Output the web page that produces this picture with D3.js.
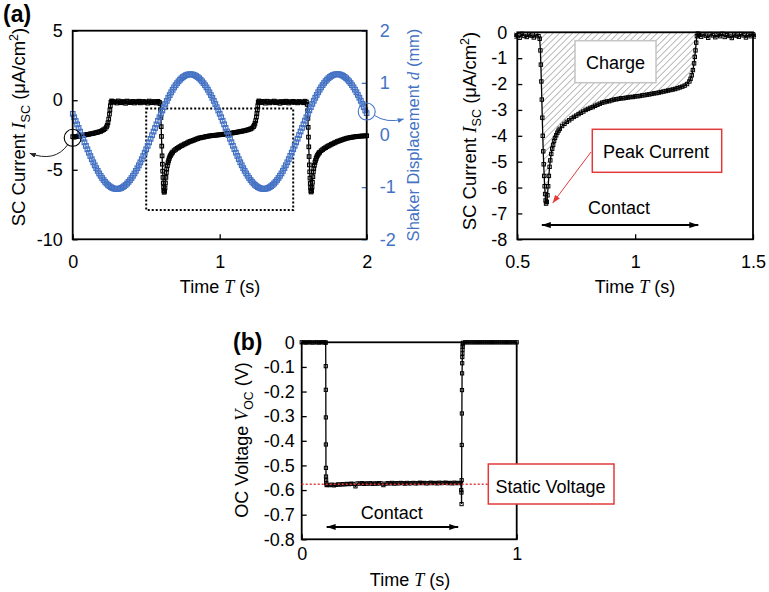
<!DOCTYPE html>
<html><head><meta charset="utf-8">
<script src="https://cdn.jsdelivr.net/npm/d3@7"></script>
<style>body{margin:0;background:#fff}svg{display:block}</style>
</head><body>
<svg id="chart" width="769" height="592"></svg>
<script>
// ---------------- DATA ----------------
// Short-circuit current density (µA/cm²) vs time (s): [t, I]
const currentSeries = [
 [0.00,-2.62],[0.01,-2.66],[0.02,-2.61],[0.03,-2.60],[0.04,-2.57],[0.05,-2.58],[0.06,-2.54],[0.07,-2.52],[0.08,-2.51],[0.09,-2.48],
 [0.10,-2.46],[0.11,-2.45],[0.12,-2.42],[0.13,-2.40],[0.14,-2.39],[0.15,-2.35],[0.16,-2.33],[0.17,-2.30],[0.18,-2.27],[0.19,-2.24],
 [0.20,-2.18],[0.21,-2.12],[0.22,-2.05],[0.23,-1.92],[0.235,-1.80],[0.24,-1.62],[0.245,-1.35],[0.25,-1.00],[0.253,-0.70],[0.256,-0.40],
 [0.26,-0.15],[0.265,-0.05],
 [0.27,-0.08],[0.28,-0.15],[0.29,-0.10],[0.30,-0.20],[0.31,-0.05],[0.32,-0.12],[0.33,-0.18],[0.34,-0.09],[0.35,-0.14],[0.36,-0.22],
 [0.37,-0.06],[0.38,-0.11],[0.39,-0.17],[0.40,-0.13],[0.41,-0.08],[0.42,-0.20],[0.43,-0.10],[0.44,-0.15],[0.45,-0.07],[0.46,-0.19],
 [0.47,-0.12],[0.48,-0.09],[0.49,-0.16],[0.50,-0.11],[0.51,-0.21],[0.52,-0.06],[0.53,-0.14],[0.54,-0.18],[0.55,-0.09],[0.56,-0.13],
 [0.57,-0.20],[0.58,-0.08],[0.59,-0.15],
 [0.595,-0.25],[0.598,-0.70],[0.600,-1.25],[0.602,-1.90],[0.604,-2.60],[0.606,-3.30],[0.608,-4.00],[0.610,-4.60],[0.612,-5.10],[0.614,-5.55],
 [0.616,-5.95],[0.618,-6.25],[0.620,-6.50],[0.622,-6.62],[0.625,-6.55],[0.628,-6.30],[0.631,-5.95],[0.634,-5.55],[0.637,-5.20],[0.640,-4.95],
 [0.644,-4.70],[0.648,-4.50],[0.652,-4.35],[0.656,-4.20],[0.660,-4.08],[0.665,-3.98],[0.670,-3.88],[0.675,-3.80],[0.68,-3.73],[0.69,-3.62],
 [0.70,-3.54],[0.71,-3.46],[0.72,-3.40],[0.73,-3.33],[0.74,-3.27],[0.75,-3.22],[0.76,-3.16],[0.77,-3.11],[0.78,-3.06],[0.79,-3.00],
 [0.80,-2.96],[0.81,-2.92],[0.82,-2.89],[0.83,-2.84],[0.84,-2.80],[0.85,-2.76],[0.86,-2.72],[0.87,-2.70],[0.88,-2.67],[0.89,-2.66],
 [0.90,-2.63],[0.91,-2.60],[0.92,-2.59],[0.93,-2.57],[0.94,-2.55],[0.95,-2.55],[0.96,-2.53],[0.97,-2.52],[0.98,-2.50],[0.99,-2.50],
 [1.00,-2.48],[1.01,-2.47],[1.02,-2.46],[1.03,-2.44],[1.04,-2.43],[1.05,-2.41],[1.06,-2.40],[1.07,-2.38],[1.08,-2.36],[1.09,-2.35],
 [1.10,-2.33],[1.11,-2.31],[1.12,-2.29],[1.13,-2.27],[1.14,-2.25],[1.15,-2.23],[1.16,-2.21],[1.17,-2.19],[1.18,-2.16],[1.19,-2.13],
 [1.20,-2.10],[1.21,-2.06],[1.22,-2.00],[1.23,-1.90],[1.235,-1.80],[1.24,-1.66],[1.245,-1.46],[1.25,-1.20],[1.253,-0.95],[1.256,-0.70],
 [1.259,-0.40],[1.262,-0.15],[1.266,-0.05],
 [1.27,-0.10],[1.28,-0.17],[1.29,-0.08],[1.30,-0.13],[1.31,-0.21],[1.32,-0.07],[1.33,-0.12],[1.34,-0.19],[1.35,-0.10],[1.36,-0.15],
 [1.37,-0.06],[1.38,-0.18],[1.39,-0.11],[1.40,-0.14],[1.41,-0.22],[1.42,-0.09],[1.43,-0.13],[1.44,-0.17],[1.45,-0.07],[1.46,-0.12],
 [1.47,-0.20],[1.48,-0.10],[1.49,-0.15],[1.50,-0.08],[1.51,-0.16],[1.52,-0.11],[1.53,-0.19],[1.54,-0.09],[1.55,-0.14],[1.56,-0.12],
 [1.57,-0.18],[1.58,-0.07],[1.59,-0.13],
 [1.595,-0.30],[1.598,-0.75],[1.600,-1.30],[1.602,-1.95],[1.604,-2.65],[1.606,-3.35],[1.608,-4.05],[1.610,-4.65],[1.612,-5.15],[1.614,-5.60],
 [1.616,-5.98],[1.618,-6.28],[1.620,-6.52],[1.622,-6.60],[1.625,-6.50],[1.628,-6.25],[1.631,-5.90],[1.634,-5.50],[1.637,-5.15],[1.640,-4.92],
 [1.644,-4.68],[1.648,-4.48],[1.652,-4.33],[1.656,-4.19],[1.660,-4.07],[1.665,-3.97],[1.670,-3.88],[1.675,-3.80],[1.68,-3.74],[1.69,-3.63],
 [1.70,-3.55],[1.71,-3.47],[1.72,-3.41],[1.73,-3.34],[1.74,-3.28],[1.75,-3.23],[1.76,-3.17],[1.77,-3.12],[1.78,-3.07],[1.79,-3.02],
 [1.80,-2.97],[1.81,-2.93],[1.82,-2.90],[1.83,-2.85],[1.84,-2.82],[1.85,-2.78],[1.86,-2.75],[1.87,-2.72],[1.88,-2.70],[1.89,-2.68],
 [1.90,-2.66],[1.91,-2.64],[1.92,-2.63],[1.93,-2.61],[1.94,-2.60],[1.95,-2.59],[1.96,-2.58],[1.97,-2.57],[1.98,-2.57],[1.99,-2.56],
 [2.00,-2.55]
];

// Shaker displacement (mm), sampled every 0.01 s from t = 0 to 2 s
const dispStep = 0.01;
const displacement = [
 0.405,0.339,0.271,0.203,0.134,0.065,-0.004,-0.073,-0.141,-0.209,
 -0.275,-0.340,-0.403,-0.465,-0.524,-0.582,-0.636,-0.688,-0.737,-0.783,
 -0.825,-0.864,-0.899,-0.930,-0.958,-0.981,-1.000,-1.016,-1.026,-1.033,
 -1.035,-1.033,-1.026,-1.016,-1.000,-0.981,-0.958,-0.930,-0.899,-0.864,
 -0.825,-0.783,-0.737,-0.688,-0.636,-0.582,-0.524,-0.465,-0.403,-0.340,
 -0.275,-0.209,-0.141,-0.073,-0.004,0.065,0.134,0.203,0.271,0.339,
 0.405,0.470,0.533,0.595,0.654,0.712,0.766,0.818,0.867,0.913,
 0.955,0.994,1.029,1.060,1.088,1.111,1.130,1.146,1.156,1.163,
 1.165,1.163,1.156,1.146,1.130,1.111,1.088,1.060,1.029,0.994,
 0.955,0.913,0.867,0.818,0.766,0.712,0.654,0.595,0.533,0.470,
 0.408,0.341,0.273,0.205,0.136,0.067,-0.002,-0.071,-0.139,-0.207,
 -0.273,-0.338,-0.401,-0.463,-0.523,-0.580,-0.635,-0.687,-0.736,-0.782,
 -0.824,-0.863,-0.898,-0.929,-0.957,-0.980,-0.999,-1.015,-1.025,-1.032,
 -1.034,-1.032,-1.025,-1.015,-0.999,-0.980,-0.957,-0.929,-0.898,-0.863,
 -0.824,-0.782,-0.736,-0.687,-0.635,-0.580,-0.523,-0.463,-0.401,-0.338,
 -0.273,-0.207,-0.139,-0.071,-0.002,0.067,0.136,0.205,0.273,0.341,
 0.407,0.472,0.535,0.597,0.656,0.714,0.768,0.820,0.869,0.915,
 0.957,0.996,1.031,1.062,1.090,1.113,1.132,1.148,1.158,1.165,
 1.167,1.165,1.158,1.148,1.132,1.113,1.090,1.062,1.031,0.996,
 0.957,0.915,0.869,0.820,0.768,0.714,0.656,0.597,0.535,0.472,
 0.420
];

// Open-circuit voltage (V) vs time (s): [t, V]
const voltageSeries = [
 [0,0],[0.01,0],[0.02,-0.001],[0.03,0],[0.04,0],[0.05,-0.001],[0.06,0],[0.07,0],[0.08,-0.001],[0.09,0],[0.10,0],[0.11,0],[0.1115,-0.002],
 [0.112,-0.097],[0.1122,-0.193],[0.1124,-0.305],[0.1126,-0.415],[0.1128,-0.51],[0.113,-0.545],[0.1135,-0.56],[0.114,-0.572],[0.116,-0.580],[0.12,-0.579],
 [0.13,-0.580],[0.14,-0.578],[0.15,-0.581],[0.16,-0.579],[0.17,-0.577],[0.18,-0.578],[0.19,-0.576],[0.20,-0.577],[0.21,-0.575],[0.22,-0.576],
 [0.23,-0.574],[0.24,-0.575],[0.25,-0.585],[0.26,-0.573],[0.27,-0.574],[0.28,-0.572],[0.29,-0.575],[0.30,-0.573],[0.31,-0.574],[0.32,-0.572],
 [0.33,-0.575],[0.34,-0.573],[0.35,-0.574],[0.36,-0.572],[0.37,-0.573],[0.38,-0.580],[0.39,-0.574],[0.40,-0.572],[0.41,-0.573],[0.42,-0.571],
 [0.43,-0.574],[0.44,-0.572],[0.45,-0.573],[0.46,-0.571],[0.47,-0.572],[0.48,-0.574],[0.49,-0.571],[0.50,-0.573],[0.51,-0.572],[0.52,-0.571],
 [0.53,-0.573],[0.54,-0.572],[0.55,-0.570],[0.56,-0.572],[0.57,-0.571],[0.58,-0.573],[0.59,-0.572],[0.60,-0.570],[0.61,-0.572],[0.62,-0.571],
 [0.63,-0.573],[0.64,-0.570],[0.65,-0.572],[0.66,-0.571],[0.67,-0.570],[0.68,-0.572],[0.69,-0.571],[0.70,-0.573],[0.71,-0.570],[0.72,-0.572],
 [0.73,-0.571],[0.74,-0.572],
 [0.742,-0.600],[0.743,-0.610],[0.7435,-0.657],[0.7440,-0.560],[0.7445,-0.417],[0.745,-0.289],[0.7455,-0.194],[0.746,-0.126],[0.7465,-0.085],
 [0.747,-0.060],[0.7475,-0.045],[0.748,-0.030],[0.7485,-0.018],[0.749,-0.008],[0.75,-0.002],
 [0.76,0],[0.77,0],[0.78,0],[0.79,0],[0.80,0],[0.81,0],[0.82,0],[0.83,0],[0.84,0],[0.85,0],[0.86,0],[0.87,0],[0.88,0],[0.89,0],
 [0.90,0],[0.91,0],[0.92,0],[0.93,0],[0.94,0],[0.95,0],[0.96,0],[0.97,0],[0.98,0],[0.99,0],[1.00,0]
];

// Axis tick values
const timeTicksA = [0, 1, 2];
const currentTicksA = [5, 0, -5, -10];
const dispTicks = [2, 1, 0, -1, -2];
const timeTicksZoom = [0.5, 1, 1.5];
const currentTicksZoom = [0, -1, -2, -3, -4, -5, -6, -7, -8];
const timeTicksB = [0, 1];
const voltTicks = [0, -0.1, -0.2, -0.3, -0.4, -0.5, -0.6, -0.7, -0.8];

// Annotation values
const zoomWindow = {t0: 0.5, t1: 1.5, iTop: -0.6, iBottom: -7.9};
const chargeWindow = [0.595, 1.266];
const contactZoom = [0.604, 1.268];
const contactB = [0.116, 0.728];
const staticVoltage = -0.576;
const peakPoint = [0.65, -6.6];

// ---------------- DRAWING ----------------
const FONT = '"Liberation Sans", Arial, Helvetica, sans-serif';
const SERIF = '"Liberation Serif", "Times New Roman", serif';
const BLUE = '#4472C4', RED = '#e23a3a';

const svg = d3.select('#chart');
const defs = svg.append('defs');

function arrowMarker(id, color, len, half) {
  defs.append('marker').attr('id', id)
    .attr('viewBox', `0 0 ${len} ${half*2}`).attr('refX', len).attr('refY', half)
    .attr('markerWidth', len).attr('markerHeight', half*2)
    .attr('markerUnits', 'userSpaceOnUse').attr('orient', 'auto-start-reverse')
    .append('path').attr('d', `M0,0L${len},${half}L0,${half*2}z`).attr('fill', color);
}
arrowMarker('arrBlack', '#000', 9, 3);
arrowMarker('arrThin', '#222', 6, 2.5);
arrowMarker('arrBlue', BLUE, 6, 2.5);
arrowMarker('arrRed', RED, 8, 3);

const pat = defs.append('pattern').attr('id', 'hatch').attr('patternUnits', 'userSpaceOnUse')
  .attr('width', 4.6).attr('height', 4.6).attr('patternTransform', 'rotate(45)');
pat.append('line').attr('x1', 0).attr('y1', 0).attr('x2', 0).attr('y2', 4.6)
  .attr('stroke', '#9a9a9a').attr('stroke-width', 1.4);

function clip(id, x, y) {
  const [x0, x1] = x.range(), [y0, y1] = y.range();
  defs.append('clipPath').attr('id', id).append('rect')
    .attr('x', x0 - 3).attr('y', Math.min(y0, y1) - 3)
    .attr('width', x1 - x0 + 6).attr('height', Math.abs(y0 - y1) + 6);
  return `url(#${id})`;
}

function styleAxis(g, color) {
  g.select('.domain').remove();
  g.selectAll('.tick line').attr('stroke', color).attr('stroke-width', 1.3);
  g.selectAll('.tick text').attr('font-family', FONT).attr('font-size', 18).attr('fill', color);
}

function frame(x, y) {
  const [x0, x1] = x.range(), [y0, y1] = y.range();
  svg.append('rect').attr('x', x0).attr('y', y1).attr('width', x1 - x0).attr('height', y0 - y1)
    .attr('fill', 'none').attr('stroke', '#000').attr('stroke-width', 1.8);
}

function richText(x, y, rotate, parts, size, color) {
  const t = svg.append('text').attr('transform', `translate(${x},${y}) rotate(${rotate})`)
    .attr('text-anchor', 'middle').attr('font-family', FONT).attr('font-size', size).attr('fill', color);
  let shift = 0;
  parts.forEach(p => {
    const s = t.append('tspan').text(p.t);
    const target = p.sub ? size * 0.28 : p.sup ? -size * 0.38 : 0;
    if (target - shift !== 0) s.attr('dy', target - shift);
    shift = target;
    if (p.sub || p.sup) s.attr('font-size', size * 0.68);
    if (p.it) s.attr('font-family', SERIF).attr('font-style', 'italic');
  });
  return t;
}

function drawSeries(g, data, x, y, color, size, lineW, fill, mw) {
  g.append('path').datum(data)
    .attr('d', d3.line().x(d => x(d[0])).y(d => y(d[1])))
    .attr('fill', 'none').attr('stroke', color).attr('stroke-width', lineW);
  g.selectAll(null).data(data).join('rect')
    .attr('x', d => x(d[0]) - size / 2).attr('y', d => y(d[1]) - size / 2)
    .attr('width', size).attr('height', size)
    .attr('fill', fill).attr('stroke', color).attr('stroke-width', mw);
}

const fmt = d => String(d);
const timeLabel = [{t: 'Time '}, {t: 'T', it: true}, {t: ' (s)'}];
const currentLabel = [{t: 'SC Current '}, {t: 'I', it: true}, {t: 'SC', sub: true}, {t: ' (μA/cm'}, {t: '2', sup: true}, {t: ')'}];

// ===== Panel (a) left =====
const xA = d3.scaleLinear().domain([0, 2]).range([72.7, 366.7]);
const yA = d3.scaleLinear().domain([-10, 5]).range([239.3, 30.7]);
const yD = d3.scaleLinear().domain([-2, 2]).range([239.3, 30.7]);

svg.append('g').attr('transform', `translate(0,${yA.range()[0]})`)
  .call(d3.axisBottom(xA).tickValues(timeTicksA).tickSize(-5).tickPadding(16).tickFormat(fmt))
  .call(g => styleAxis(g, '#000'));
svg.append('g').attr('transform', `translate(${xA.range()[0]},0)`)
  .call(d3.axisLeft(yA).tickValues(currentTicksA).tickSize(-5).tickPadding(10).tickFormat(fmt))
  .call(g => styleAxis(g, '#000'));
svg.append('g').attr('transform', `translate(${xA.range()[1]},0)`)
  .call(d3.axisRight(yD).tickValues(dispTicks).tickSize(-5).tickPadding(13).tickFormat(fmt))
  .call(g => styleAxis(g, BLUE));

const gA = svg.append('g').attr('clip-path', clip('clipA', xA, yA));
gA.append('rect')
  .attr('x', xA(zoomWindow.t0)).attr('y', yA(zoomWindow.iTop))
  .attr('width', xA(zoomWindow.t1) - xA(zoomWindow.t0))
  .attr('height', yA(zoomWindow.iBottom) - yA(zoomWindow.iTop))
  .attr('fill', 'none').attr('stroke', '#000').attr('stroke-width', 2).attr('stroke-dasharray', '2,2');
drawSeries(gA, currentSeries, xA, yA, '#000', 3.6, 1.3, 'none', 1.1);
const dispData = displacement.map((v, i) => [i * dispStep, v]);
drawSeries(gA, dispData, xA, yD, BLUE, 4.6, 1, 'none', 1.2);
frame(xA, yA);

// circles and arrows
svg.append('circle').attr('cx', xA(0)).attr('cy', yA(-2.7)).attr('r', 8.5)
  .attr('fill', 'none').attr('stroke', '#000').attr('stroke-width', 1.1);
svg.append('path').attr('d', `M${xA(0) - 5},${yA(-2.7) + 7} Q${xA(0) - 18},${yA(-2.7) + 25} ${xA(0) - 43},${yA(-2.7) + 15.5}`)
  .attr('fill', 'none').attr('stroke', '#222').attr('stroke-width', 1).attr('marker-end', 'url(#arrThin)');
svg.append('circle').attr('cx', xA(2)).attr('cy', yD(0.45)).attr('r', 8.5)
  .attr('fill', 'none').attr('stroke', BLUE).attr('stroke-width', 1.1);
svg.append('path').attr('d', `M${xA(2) + 8},${yD(0.45) + 4} Q${xA(2) + 20},${yD(0.45) + 12} ${xA(2) + 37},${yD(0.45) + 7.5}`)
  .attr('fill', 'none').attr('stroke', BLUE).attr('stroke-width', 1).attr('marker-end', 'url(#arrBlue)');

richText(220, 293, 0, timeLabel, 18, '#000');
richText(25, 127, -90, currentLabel, 18.5, '#000');
richText(419, 135, -90, [{t: 'Shaker Displacement '}, {t: 'd', it: true}, {t: ' (mm)'}], 16.5, BLUE);
svg.append('text').attr('x', 3).attr('y', 22).attr('font-family', FONT).attr('font-weight', 'bold')
  .attr('font-size', 23).text('(a)');

// ===== Panel (a) right (zoom) =====
const xZ = d3.scaleLinear().domain([0.5, 1.5]).range([517.3, 753]);
const yZ = d3.scaleLinear().domain([-8, 0]).range([239.3, 32.3]);

svg.append('g').attr('transform', `translate(0,${yZ.range()[0]})`)
  .call(d3.axisBottom(xZ).tickValues(timeTicksZoom).tickSize(-5).tickPadding(16).tickFormat(fmt))
  .call(g => styleAxis(g, '#000'));
svg.append('g').attr('transform', `translate(${xZ.range()[0]},0)`)
  .call(d3.axisLeft(yZ).tickValues(currentTicksZoom).tickSize(-5).tickPadding(10).tickFormat(fmt))
  .call(g => styleAxis(g, '#000'));

const gZ = svg.append('g').attr('clip-path', clip('clipZ', xZ, yZ));
const chargeData = currentSeries.filter(d => d[0] >= chargeWindow[0] && d[0] <= chargeWindow[1]);
gZ.append('path').datum(chargeData)
  .attr('d', d3.area().x(d => xZ(d[0])).y0(yZ(0)).y1(d => yZ(d[1])))
  .attr('fill', 'url(#hatch)');
drawSeries(gZ, currentSeries.filter(d => d[0] >= 0.45 && d[0] <= 1.55), xZ, yZ, '#000', 3.4, 1.3, 'none', 1);
frame(xZ, yZ);

// Charge box
svg.append('rect').attr('x', 575).attr('y', 40.7).attr('width', 81).attr('height', 42)
  .attr('fill', '#fff').attr('stroke', '#c4c4c4').attr('stroke-width', 1.5);
svg.append('text').attr('x', 615.5).attr('y', 69).attr('text-anchor', 'middle')
  .attr('font-family', FONT).attr('font-size', 18).text('Charge');
// Peak current box + arrow
svg.append('rect').attr('x', 592.3).attr('y', 129.3).attr('width', 129.4).attr('height', 43)
  .attr('fill', '#fff').attr('stroke', RED).attr('stroke-width', 1.5);
svg.append('text').attr('x', 656).attr('y', 158).attr('text-anchor', 'middle')
  .attr('font-family', FONT).attr('font-size', 18).text('Peak Current');
svg.append('line').attr('x1', 591).attr('y1', 152).attr('x2', xZ(peakPoint[0])).attr('y2', yZ(peakPoint[1]))
  .attr('stroke', RED).attr('stroke-width', 1).attr('marker-end', 'url(#arrRed)');
// Contact
svg.append('line').attr('x1', xZ(contactZoom[0])).attr('x2', xZ(contactZoom[1]))
  .attr('y1', yZ(-7.45)).attr('y2', yZ(-7.45))
  .attr('stroke', '#000').attr('stroke-width', 2)
  .attr('marker-start', 'url(#arrBlack)').attr('marker-end', 'url(#arrBlack)');
svg.append('text').attr('x', 619).attr('y', 214).attr('text-anchor', 'middle')
  .attr('font-family', FONT).attr('font-size', 18).text('Contact');

richText(635, 293, 0, timeLabel, 18, '#000');
richText(476, 131, -90, currentLabel, 18.5, '#000');

// ===== Panel (b) =====
const xB = d3.scaleLinear().domain([0, 1]).range([301.7, 516.7]);
const yB = d3.scaleLinear().domain([-0.8, 0]).range([539.3, 342.3]);

svg.append('g').attr('transform', `translate(0,${yB.range()[0]})`)
  .call(d3.axisBottom(xB).tickValues(timeTicksB).tickSize(-5).tickPadding(7.5).tickFormat(fmt))
  .call(g => styleAxis(g, '#000'));
svg.append('g').attr('transform', `translate(${xB.range()[0]},0)`)
  .call(d3.axisLeft(yB).tickValues(voltTicks).tickSize(-5).tickPadding(7).tickFormat(fmt))
  .call(g => styleAxis(g, '#000'));

frame(xB, yB);
const gB = svg.append('g').attr('clip-path', clip('clipB', xB, yB));
drawSeries(gB, voltageSeries, xB, yB, '#000', 3.2, 1.3, 'none', 1);

svg.append('line').attr('x1', xB(0)).attr('x2', 488.3).attr('y1', yB(staticVoltage)).attr('y2', yB(staticVoltage))
  .attr('stroke', RED).attr('stroke-width', 1.5).attr('stroke-dasharray', '2,2');
svg.append('rect').attr('x', 488.3).attr('y', 464).attr('width', 125.7).attr('height', 40)
  .attr('fill', '#fff').attr('stroke', RED).attr('stroke-width', 1.5);
svg.append('text').attr('x', 550.5).attr('y', 492.5).attr('text-anchor', 'middle')
  .attr('font-family', FONT).attr('font-size', 18).text('Static Voltage');

svg.append('line').attr('x1', xB(contactB[0])).attr('x2', xB(contactB[1]))
  .attr('y1', yB(-0.75)).attr('y2', yB(-0.75))
  .attr('stroke', '#000').attr('stroke-width', 2)
  .attr('marker-start', 'url(#arrBlack)').attr('marker-end', 'url(#arrBlack)');
svg.append('text').attr('x', 391.7).attr('y', 519).attr('text-anchor', 'middle')
  .attr('font-family', FONT).attr('font-size', 18).text('Contact');

richText(410, 586, 0, timeLabel, 18, '#000');
richText(248, 440, -90, [{t: 'OC Voltage '}, {t: 'V', it: true}, {t: 'OC', sub: true}, {t: ' (V)'}], 18, '#000');
svg.append('text').attr('x', 233).attr('y', 350).attr('font-family', FONT).attr('font-weight', 'bold')
  .attr('font-size', 23).text('(b)');
</script></body></html>
